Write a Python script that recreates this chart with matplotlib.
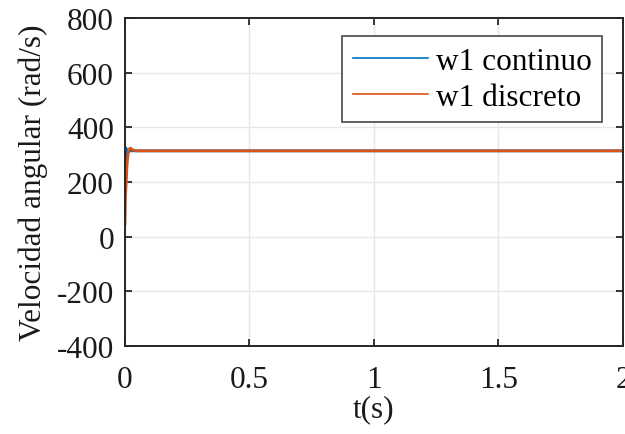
import matplotlib
matplotlib.use("Agg")
import matplotlib.pyplot as plt
from matplotlib.lines import Line2D

# --- data ---
t_cont = [0.0, 0.001, 0.002, 0.003, 0.004, 0.005, 0.006, 0.007, 0.008,
          0.009, 0.010, 0.012, 0.015, 0.020, 2.0]
w_cont = [300, 327, 265, 322, 270, 320, 280, 318, 290, 316, 300, 318, 312, 314, 314]

t_disc = [0.0, 0.002, 0.005, 0.008, 0.012, 0.016, 0.021, 0.028, 0.036, 0.045, 2.0]
w_disc = [46, 150, 200, 260, 300, 318, 324, 320, 316, 314, 314]

x_ticks = [0, 0.5, 1, 1.5, 2]
x_labels = ["0", "0.5", "1", "1.5", "2"]
y_ticks = [-400, -200, 0, 200, 400, 600, 800]

BLUE = "#0072BD"
ORANGE = "#D95319"
FS = 22.5

plt.rcParams["font.family"] = ["Liberation Serif", "DejaVu Serif"]
plt.rcParams["axes.unicode_minus"] = False

fig = plt.figure(figsize=(6.25, 4.35), dpi=100)
ax = fig.add_axes([0.2, 0.2023, 0.7968, 0.7540])

ax.plot(t_cont, w_cont, color=BLUE, linewidth=2.0)
ax.plot(t_disc, w_disc, color=ORANGE, linewidth=2.0)

ax.set_xlim(0, 2)
ax.set_ylim(-400, 800)
ax.set_xticks(x_ticks)
ax.set_xticklabels(x_labels)
ax.set_yticks(y_ticks)
ax.tick_params(direction="in", labelsize=FS, length=5, width=1.3,
               top=True, right=True, colors="#262626", labelcolor="#1a1a1a")
ax.tick_params(axis="x", pad=14)
ax.tick_params(axis="y", pad=8)
ax.grid(True, color="#e6e6e6", linewidth=1.0)
ax.set_axisbelow(True)
for s in ax.spines.values():
    s.set_color("#262626")
    s.set_linewidth(1.4)

ax.set_xlabel("t(s)", fontsize=FS, color="#1a1a1a", labelpad=0)
ax.set_ylabel("Velocidad angular (rad/s)", fontsize=FS, color="#1a1a1a", labelpad=6)

handles = [Line2D([], [], color=BLUE, linewidth=1.2),
           Line2D([], [], color=ORANGE, linewidth=1.2)]
leg = ax.legend(handles, ["w1 continuo", "w1 discreto"], loc="upper right",
                fontsize=FS, handlelength=2.4, handletextpad=0.25,
                borderpad=0.34, labelspacing=0.22, fancybox=False,
                framealpha=1.0, edgecolor="#555555", borderaxespad=0,
                bbox_to_anchor=(0.958, 0.945))
leg.get_frame().set_linewidth(1.3)

fig.savefig("out.png", dpi=100)
